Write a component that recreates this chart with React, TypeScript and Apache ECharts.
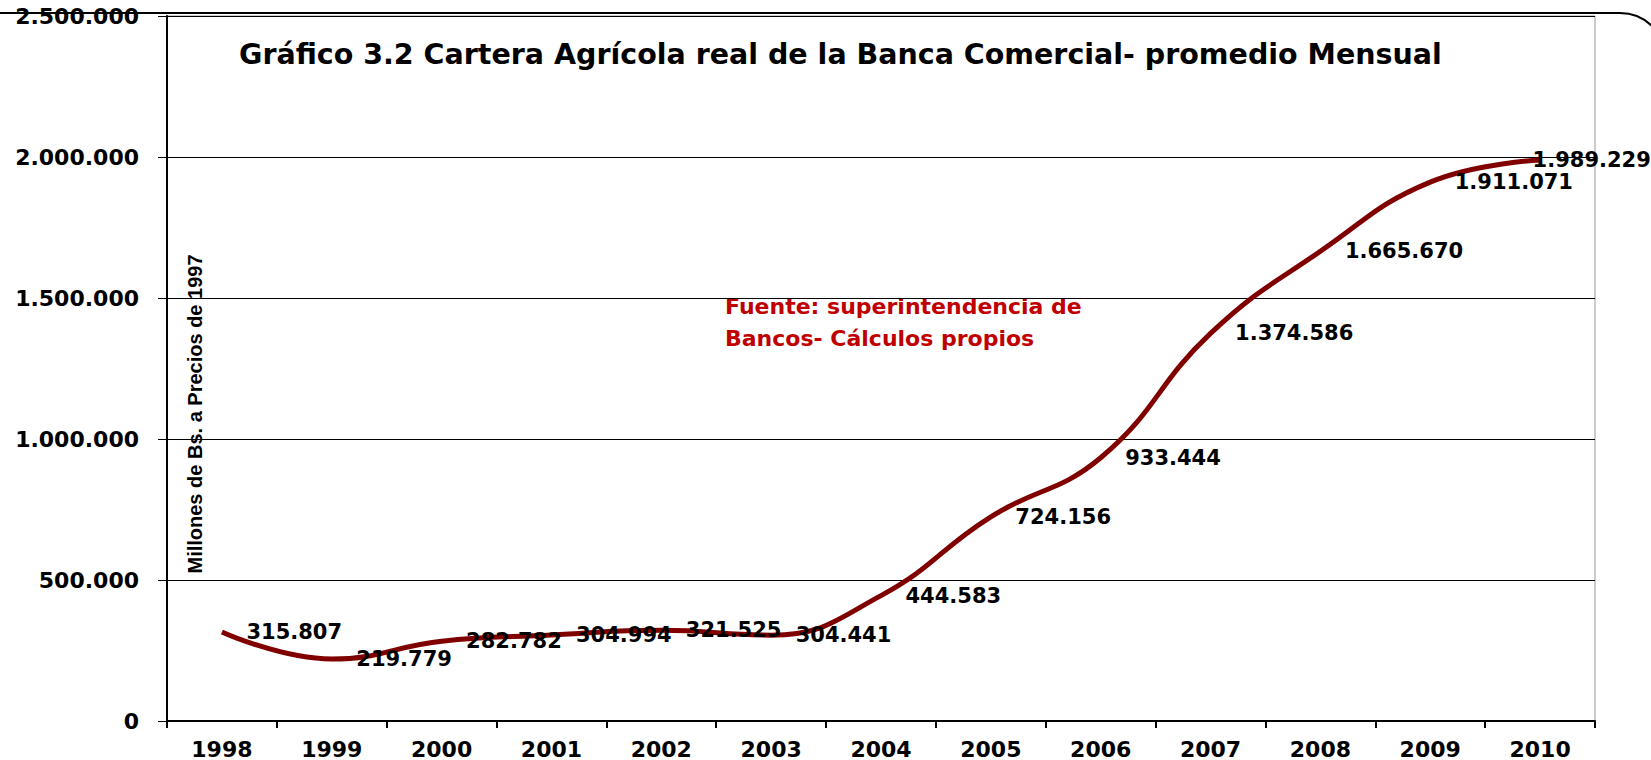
import React, { useEffect, useRef } from "react";
import * as echarts from "echarts";

const years = ["1998", "1999", "2000", "2001", "2002", "2003", "2004", "2005", "2006", "2007", "2008", "2009", "2010"];
const cartera = [315807, 219779, 282782, 304994, 321525, 304441, 444583, 724156, 933444, 1374586, 1665670, 1911071, 1989229];
const yMin = 0;
const yMax = 2500000;
const yStep = 500000;

const titleText = "Gráfico 3.2 Cartera Agrícola real de la Banca Comercial- promedio Mensual";
const yName = "Millones de Bs. a Precios de 1997";
const sourceText = "Fuente: superintendencia de\nBancos- Cálculos propios";

const labelShifts = [0, 0, 0, 0, 0, 0, 0, 0, 0, 0, 0, 0, -32];

const FONT = "DejaVu Sans";
const fmt = (v: number) => String(Math.round(v)).replace(/\B(?=(\d{3})+(?!\d))/g, ".");

export default function App() {
  const ref = useRef<HTMLDivElement>(null);
  useEffect(() => {
    if (!ref.current) return;
    const chart = echarts.init(ref.current, null, { renderer: "svg" });
    chart.setOption({
      animation: false,
      backgroundColor: "#fff",
      title: {
        text: titleText,
        left: 234,
        top: 35,
        textStyle: { fontFamily: FONT, fontWeight: "bold", fontSize: 28.5, color: "#000" },
      },
      grid: {
        left: 167,
        right: 56,
        top: 16,
        bottom: 38,
        show: true,
        borderColor: "#999",
        borderWidth: 1,
        backgroundColor: "transparent",
      },
      xAxis: {
        type: "category",
        data: years,
        boundaryGap: true,
        axisLine: { show: true, lineStyle: { color: "#000", width: 2 } },
        axisTick: { show: true, length: 7, alignWithLabel: false, lineStyle: { color: "#000", width: 2 } },
        axisLabel: { margin: 17, fontFamily: FONT, fontWeight: "bold", fontSize: 22, color: "#000" },
        splitLine: { show: false },
      },
      yAxis: {
        type: "value",
        min: yMin,
        max: yMax,
        interval: yStep,
        axisLine: { show: true, lineStyle: { color: "#000", width: 2 } },
        axisTick: { show: true, length: 9, lineStyle: { color: "#000", width: 1 } },
        axisLabel: { margin: 28, fontFamily: FONT, fontWeight: "bold", fontSize: 22, color: "#000", formatter: (v: number) => fmt(v) },
        splitLine: { show: true, lineStyle: { color: "#000", width: 1 } },
      },
      series: [
        {
          type: "line",
          data: cartera.map((v, i) => ({ value: v, label: { offset: [labelShifts[i], 0] } })),
          smooth: 0.45,
          symbol: "circle",
          symbolSize: 1,
          itemStyle: { color: "rgba(0,0,0,0)" },
          lineStyle: { color: "#800000", width: 5 },
          label: {
            show: true,
            position: "right",
            distance: 24,
            color: "#000",
            fontFamily: FONT,
            fontWeight: "bold",
            fontSize: 21,
            formatter: (p: any) => fmt(p.value),
          },
          z: 3,
        },
      ],
      graphic: [
        {
          type: "rect",
          shape: { x: -80, y: 13, width: 1746, height: 800, r: 46 },
          style: { fill: "none", stroke: "#000", lineWidth: 2 },
          silent: true,
          z: 10,
        },
        {
          type: "text",
          x: 195,
          y: 414,
          rotation: Math.PI / 2,
          style: {
            text: yName,
            textAlign: "center",
            textVerticalAlign: "middle",
            fontFamily: "Liberation Sans",
            fontWeight: "bold",
            fontSize: 20,
            fill: "#000",
          },
        },
        {
          type: "text",
          x: 725,
          y: 290,
          style: {
            text: sourceText,
            textAlign: "left",
            textVerticalAlign: "top",
            fontFamily: FONT,
            fontWeight: "bold",
            fontSize: 22,
            lineHeight: 32,
            fill: "#C00000",
          },
        },
      ],
    });
    return () => chart.dispose();
  }, []);
  return (
    <div
      ref={ref}
      style={{ position: "fixed", left: 0, top: 0, width: 1651, height: 760 }}
    />
  );
}
